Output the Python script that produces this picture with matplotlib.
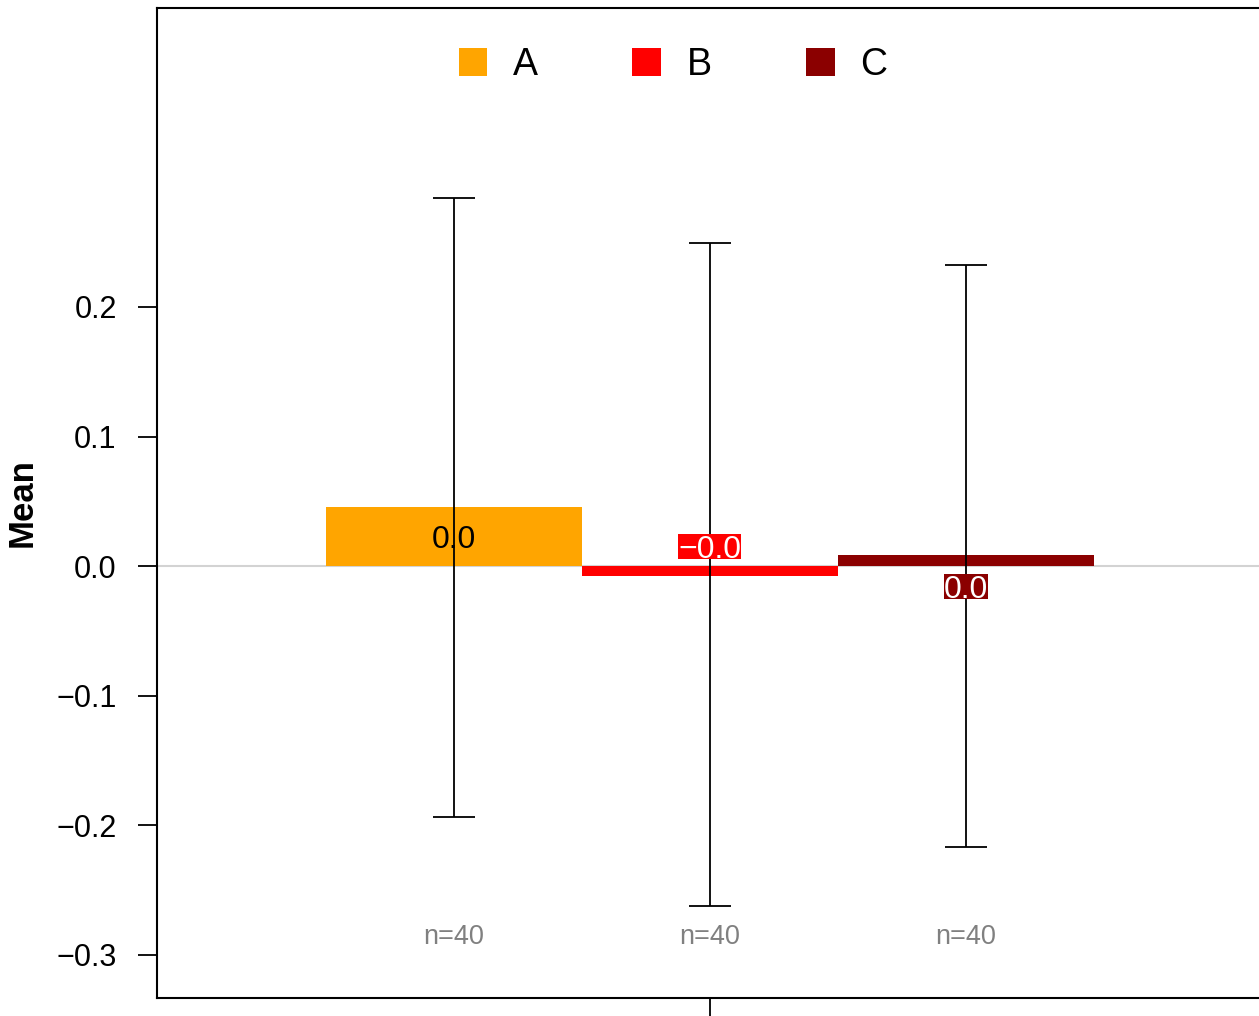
import numpy as np
import matplotlib.pyplot as plt
from matplotlib.patches import Patch, Rectangle
from matplotlib.transforms import blended_transform_factory, IdentityTransform

plt.rcParams['font.family'] = ['Liberation Sans', 'DejaVu Sans']

# data
groups = ['A', 'B', 'C']
means = [0.0458, -0.0075, 0.0085]
err_low = [-0.1935, -0.2622, -0.2170]
err_high = [0.2841, 0.2494, 0.2324]
counts = [40, 40, 40]
colors = ['#FFA500', '#FF0000', '#8B0000']
yticks = [-0.3, -0.2, -0.1, 0.0, 0.1, 0.2]

W, H, DPI = 1259, 1016, 100
fig = plt.figure(figsize=(W / DPI, H / DPI), dpi=DPI)
ax = fig.add_axes([157 / W, 1 - 998 / H, (1263 - 157) / W, 990 / H])

x = np.arange(1, len(groups) + 1)
ax.axhline(0, color='#D3D3D3', lw=1.5, zorder=0)
ax.bar(x, means, width=1.0, color=colors, zorder=1)

yerr = [np.array(means) - np.array(err_low), np.array(err_high) - np.array(means)]
ax.errorbar(x, means, yerr=yerr, fmt='none', ecolor='black', elinewidth=1.3,
            capsize=15, capthick=1.3, zorder=3)

ax.set_xlim(-0.16, 4.16)
ax.set_ylim(-0.3332, 0.4307)
ax.set_yticks(yticks)
ax.set_yticklabels([f'{t:.1f}'.replace('-', '\u2212') for t in yticks])
ax.set_xticks([2])
ax.set_xticklabels([''])
ax.tick_params(axis='both', direction='out', length=14, width=1.3, labelsize=22, pad=15)
for s in ax.spines.values():
    s.set_linewidth(1.5)

ax.set_ylabel('Mean', fontsize=25, fontweight='bold', va='center')
ax.yaxis.set_label_coords(-0.122, 0.5)

# value labels
fs_lab = 23
labels = []
for xi, m, c in zip(x, means, colors):
    txt = f'{m:.1f}'.replace('-', '\u2212')
    if abs(m) > 0.03:
        ly = m / 2
        t = ax.text(xi, ly, txt, ha='center', va='center_baseline', fontsize=fs_lab,
                    color='black', zorder=4)
    else:
        ly = -np.sign(m) * 0.0155
        t = ax.text(xi, ly, txt, ha='center', va='center_baseline', fontsize=fs_lab,
                    color='white', zorder=5)
        labels.append((t, c))

fig.canvas.draw()
cap = 0.72 * fs_lab * DPI / 72
for t, c in labels:
    bb = t.get_window_extent()
    px, py = ax.transData.transform(t.get_position())
    r = Rectangle((bb.x0, py - cap / 2 - 1), bb.width, cap + 2, facecolor=c,
                  edgecolor='none', transform=IdentityTransform(), zorder=4.5,
                  clip_on=False)
    ax.add_patch(r)

# counts
tr = blended_transform_factory(ax.transData, ax.transAxes)
for xi, n in zip(x, counts):
    ax.text(xi, 0.0616, f'n={n}', ha='center', va='center', fontsize=19.5,
            color='#808080', transform=tr)

handles = [Patch(facecolor=c, edgecolor='none') for c in colors]
fig.legend(handles, groups, loc='center', bbox_to_anchor=(673 / W, 1 - 65 / H),
           ncol=3, frameon=False, fontsize=27, handlelength=0.77, handleheight=0.77,
           handletextpad=0.69, columnspacing=2.5, borderpad=0)

fig.savefig('out.png', dpi=DPI)
